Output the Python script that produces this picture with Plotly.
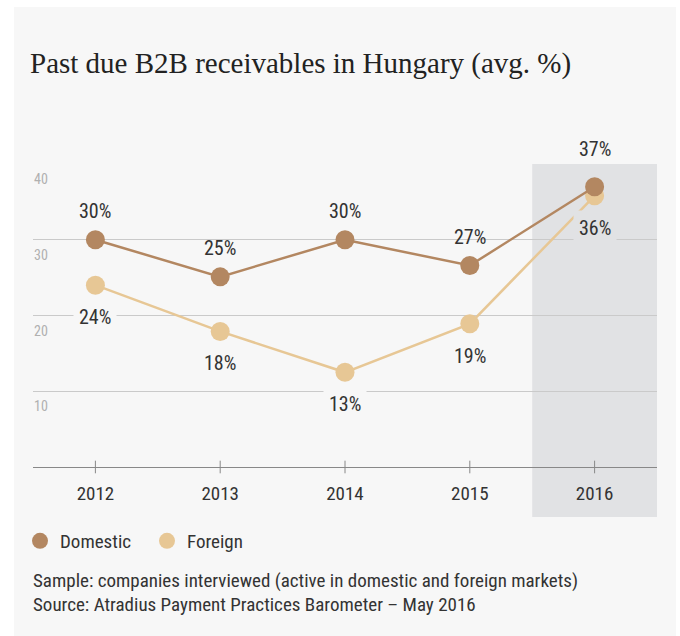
import plotly.graph_objects as go

years = ["2012", "2013", "2014", "2015", "2016"]
domestic = [30, 25.1, 30, 26.6, 37]
foreign = [24, 17.9, 12.5, 18.9, 35.8]
domestic_labels = ["30%", "25%", "30%", "27%", "37%"]
foreign_labels = ["24%", "18%", "13%", "19%", "36%"]
y_ticks = [10, 20, 30, 40]

C_DOM = "#b38761"
C_FOR = "#e7c795"
PANEL = "#f7f7f7"
SHADE = "#e1e2e4"
SANS = "Liberation Sans Narrow, Roboto Condensed, DejaVu Sans Condensed, Arial Narrow, sans-serif"
SERIF = "Liberation Serif"

W, H = 680, 636
L, R, T, B = 33, 23, 164, 169
pw, ph = W - L - R, H - T - B


def px_x(x):
    return (x - L) / pw


def px_y(y):
    return (H - B - y) / ph


fig = go.Figure()

fig.add_trace(go.Scatter(x=years, y=foreign, mode="lines+markers", showlegend=False,
                         line=dict(color=C_FOR, width=2.5), marker=dict(size=19, color=C_FOR),
                         cliponaxis=False, hoverinfo="skip"))
fig.add_trace(go.Scatter(x=years, y=domestic, mode="lines+markers", showlegend=False,
                         line=dict(color=C_DOM, width=2.5), marker=dict(size=19, color=C_DOM),
                         cliponaxis=False, hoverinfo="skip"))
# tick marks crossing the x axis line
fig.add_trace(go.Scatter(x=years, y=[0] * len(years), mode="markers", showlegend=False,
                         marker=dict(symbol="line-ns", size=9, line=dict(color="#888888", width=1)),
                         cliponaxis=False, hoverinfo="skip"))
# legend entries
fig.add_trace(go.Scatter(x=[None], y=[None], mode="markers", name="Domestic",
                         marker=dict(size=17, color=C_DOM)))
fig.add_trace(go.Scatter(x=[None], y=[None], mode="markers", name="Foreign",
                         marker=dict(size=17, color=C_FOR)))

shapes = [
    dict(type="rect", xref="paper", yref="paper", x0=px_x(14), x1=px_x(676), y0=px_y(636), y1=px_y(7),
         fillcolor=PANEL, line=dict(width=0), layer="below"),
    dict(type="rect", xref="x", yref="paper", x0=3.5, x1=4.5, y0=px_y(517), y1=1,
         fillcolor=SHADE, line=dict(width=0), layer="below"),
]

annotations = []
for yv in y_ticks:
    annotations.append(dict(x=0, xref="paper", y=yv, yref="y", text=str(yv), showarrow=False,
                            xanchor="left", yanchor="top", yshift=-5, xshift=-1,
                            font=dict(family=SANS, size=14, color="#b0b0b0")))
for i, yr in enumerate(years):
    up = 38 if i == 4 else 29
    annotations.append(dict(x=i, xref="x", y=domestic[i], yref="y", text=domestic_labels[i],
                            showarrow=False, yshift=up, xanchor="center", yanchor="middle",
                            font=dict(family=SANS, size=20, color="#333333")))
    annotations.append(dict(x=i, xref="x", y=foreign[i], yref="y", text=foreign_labels[i],
                            showarrow=False, yshift=-32, xanchor="center", yanchor="middle",
                            bgcolor=PANEL if i != 4 else SHADE, borderpad=5,
                            font=dict(family=SANS, size=20, color="#333333")))
annotations.append(dict(x=px_x(31), xref="paper", y=px_y(580), yref="paper", showarrow=False,
                        xanchor="left", yanchor="middle", align="left",
                        text="Sample: companies interviewed (active in domestic and foreign markets)",
                        font=dict(family=SANS, size=19, color="#333333")))
annotations.append(dict(x=px_x(31), xref="paper", y=px_y(604), yref="paper", showarrow=False,
                        xanchor="left", yanchor="middle", align="left",
                        text="Source: Atradius Payment Practices Barometer \u2013 May 2016",
                        font=dict(family=SANS, size=19, color="#333333")))

fig.update_layout(
    width=W, height=H,
    margin=dict(l=L, r=R, t=T, b=B, pad=0),
    paper_bgcolor="white",
    plot_bgcolor="rgba(0,0,0,0)",
    title=dict(text="Past due B2B receivables in Hungary (avg. %)", x=30 / W, xanchor="left",
               y=1 - 63 / H, yanchor="middle", xref="container", yref="container",
               font=dict(family=SERIF, size=29, color="#222222")),
    xaxis=dict(type="category", range=[-0.5, 4.5], showgrid=False, showline=True,
               linecolor="#888888", linewidth=1, ticks="outside", ticklen=9,
               tickcolor="rgba(0,0,0,0)", tickfont=dict(family=SANS, size=19, color="#333333"),
               fixedrange=True),
    yaxis=dict(range=[0, 40], showgrid=True, gridcolor="#cacaca", gridwidth=1, tickvals=y_ticks,
               showticklabels=False, zeroline=False, showline=False, fixedrange=True),
    showlegend=True,
    legend=dict(orientation="h", x=px_x(20), xanchor="left", y=px_y(541), yanchor="middle",
                bgcolor="rgba(0,0,0,0)", font=dict(family=SANS, size=19, color="#333333"),
                entrywidth=82, entrywidthmode="pixels", itemclick=False, itemdoubleclick=False),
    shapes=shapes,
    annotations=annotations,
)

fig.write_html("out.html")
